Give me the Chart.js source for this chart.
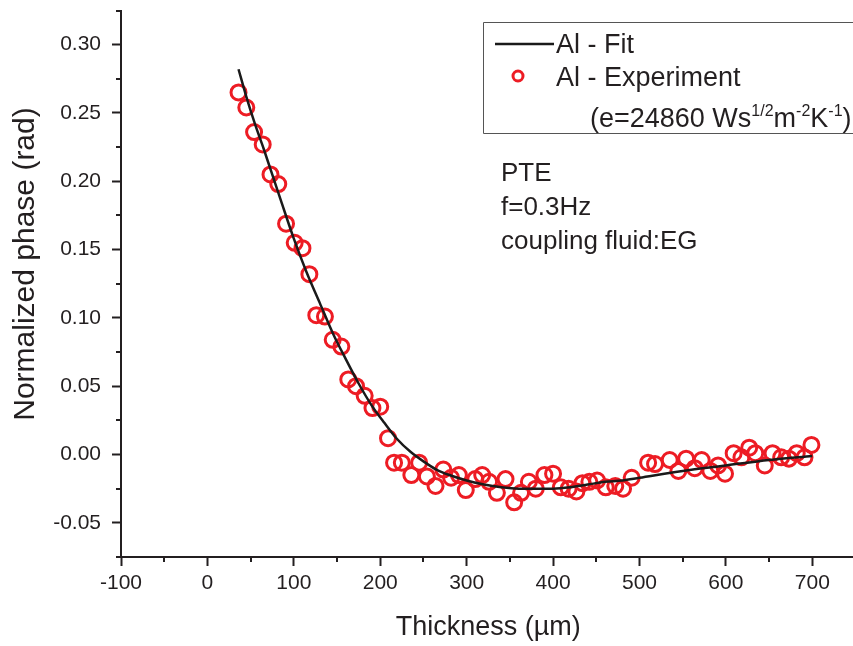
<!DOCTYPE html>
<html>
<head>
<meta charset="utf-8">
<script src="https://cdn.jsdelivr.net/npm/chart.js@4/dist/chart.umd.min.js"></script>
<style>
  html, body { margin: 0; padding: 0; background: #fff; overflow: hidden; }
  #wrap { width: 866px; height: 646px; }
</style>
</head>
<body>
<div id="wrap"><canvas id="grafico" width="866" height="646"></canvas></div>
<script>
// pontos experimentais (Al)
const espessuraExp = [36, 45, 54, 64, 73, 82, 91, 101, 110, 118, 126, 136, 145, 155, 163, 172, 182, 191, 200, 209,
  216, 225, 236, 245, 254, 264, 273, 282, 291, 299, 310, 318, 326, 335, 345, 355, 363, 372, 380, 390,
  400, 409, 418, 427, 434, 442, 451, 461, 472, 481, 491, 510, 518, 535, 545, 554, 564, 572, 582, 591,
  599, 609, 618, 627, 634, 645, 654, 664, 673, 682, 691, 699];
const faseExp = [0.265, 0.254, 0.236, 0.227, 0.205, 0.198, 0.169, 0.155, 0.151, 0.132, 0.102, 0.101, 0.084, 0.079, 0.055, 0.050, 0.043, 0.034, 0.035, 0.012,
  -0.006, -0.006, -0.015, -0.006, -0.016, -0.023, -0.011, -0.017, -0.015, -0.026, -0.018, -0.015, -0.020, -0.028, -0.018, -0.035, -0.028, -0.020, -0.025, -0.015,
  -0.014, -0.024, -0.025, -0.027, -0.021, -0.020, -0.019, -0.024, -0.023, -0.025, -0.017, -0.006, -0.007, -0.004, -0.012, -0.003, -0.010, -0.004, -0.012, -0.008,
  -0.014, 0.001, -0.002, 0.005, 0.001, -0.008, 0.001, -0.002, -0.003, 0.001, -0.002, 0.007];

// curva de ajuste (Al - Fit)
const espessuraFit = [36, 45, 55, 65, 75, 85, 100, 115, 130, 145, 160, 175, 190, 205, 220, 235, 250, 265, 280, 300,
  320, 340, 360, 380, 400, 420, 440, 460, 480, 500, 550, 600, 650, 700];
const faseFit = [0.282, 0.262, 0.242, 0.224, 0.205, 0.186, 0.158, 0.133, 0.111, 0.089, 0.070, 0.052, 0.036, 0.023, 0.011, 0.002, -0.005, -0.011, -0.015, -0.019,
  -0.022, -0.024, -0.025, -0.025, -0.025, -0.024, -0.022, -0.020, -0.019, -0.017, -0.012, -0.008, -0.004, -0.001];

// marcas dos eixos
const ticksX = [-100, 0, 100, 200, 300, 400, 500, 600, 700];
const ticksY = [-0.05, 0.00, 0.05, 0.10, 0.15, 0.20, 0.25, 0.30];
const minorX = [-50, 50, 150, 250, 350, 450, 550, 650, 750];
const minorY = [-0.075, -0.025, 0.025, 0.075, 0.125, 0.175, 0.225, 0.275, 0.325];

const notas = ["PTE", "f=0.3Hz", "coupling fluid:EG"];
const tituloY = "Normalized phase (rad)";

const corVermelha = "rgb(237, 28, 36)";
const corEixo = "#231f20";
const fonte = "'Liberation Sans', Arial, sans-serif";

function juntaPontos(xs, ys) {
  return xs.map(function (x, i) { return { x: x, y: ys[i] }; });
}

// sem folga extra nas bordas da area do grafico
function semFolga(s) {
  s.paddingTop = 0;
  s.paddingBottom = 0;
  s.paddingLeft = 0;
  s.paddingRight = 0;
}

// marcas menores + legenda + textos
const extras = {
  id: "extras",
  afterDraw(chart) {
    const ctx = chart.ctx;
    const sx = chart.scales.x;
    const sy = chart.scales.y;
    const area = chart.chartArea;
    ctx.save();
    ctx.strokeStyle = corEixo;
    ctx.lineWidth = 2;
    minorX.forEach(function (v) {
      const px = Math.round(sx.getPixelForValue(v));
      ctx.beginPath();
      ctx.moveTo(px, area.bottom);
      ctx.lineTo(px, area.bottom + 5);
      ctx.stroke();
    });
    minorY.forEach(function (v) {
      const py = Math.round(sy.getPixelForValue(v));
      ctx.beginPath();
      ctx.moveTo(area.left, py);
      ctx.lineTo(area.left - 5, py);
      ctx.stroke();
    });

    // titulo do eixo y (um pouco acima do centro, como no original)
    ctx.save();
    ctx.translate(26, 264);
    ctx.rotate(-Math.PI / 2);
    ctx.fillStyle = corEixo;
    ctx.font = "30px " + fonte;
    ctx.textAlign = "center";
    ctx.textBaseline = "middle";
    ctx.fillText(tituloY, 0, 0);
    ctx.restore();

    // caixa da legenda
    ctx.strokeStyle = "#555";
    ctx.lineWidth = 1;
    ctx.beginPath();
    ctx.moveTo(870, 22.5);
    ctx.lineTo(483.5, 22.5);
    ctx.lineTo(483.5, 133.5);
    ctx.lineTo(870, 133.5);
    ctx.stroke();

    ctx.strokeStyle = "#1a1a1a";
    ctx.lineWidth = 2.5;
    ctx.beginPath();
    ctx.moveTo(495, 44);
    ctx.lineTo(554, 44);
    ctx.stroke();

    ctx.strokeStyle = corVermelha;
    ctx.lineWidth = 3;
    ctx.beginPath();
    ctx.arc(518, 76, 5, 0, Math.PI * 2);
    ctx.stroke();

    ctx.fillStyle = "#231f20";
    ctx.textBaseline = "alphabetic";
    ctx.textAlign = "left";
    ctx.font = "27px " + fonte;
    ctx.fillText("Al - Fit", 556, 53);
    ctx.fillText("Al - Experiment", 556, 86);

    // (e=24860 Ws^1/2 m^-2 K^-1)
    let x = 590;
    const base = 127;
    const partes = [["(e=24860 Ws", false], ["1/2", true], ["m", false], ["-2", true], ["K", false], ["-1", true], [")", false]];
    partes.forEach(function (p) {
      ctx.font = (p[1] ? "16px " : "27px ") + fonte;
      ctx.fillText(p[0], x, p[1] ? base - 11 : base);
      x += ctx.measureText(p[0]).width;
    });

    ctx.font = "26px " + fonte;
    notas.forEach(function (t, i) {
      ctx.fillText(t, 501, 181 + i * 34);
    });
    ctx.restore();
  }
};

new Chart(document.getElementById("grafico"), {
  type: "scatter",
  data: {
    datasets: [
      {
        label: "Al - Fit",
        type: "line",
        data: juntaPontos(espessuraFit, faseFit),
        borderColor: "#1a1a1a",
        borderWidth: 2.5,
        pointRadius: 0,
        fill: false,
        cubicInterpolationMode: "monotone"
      },
      {
        label: "Al - Experiment",
        data: juntaPontos(espessuraExp, faseExp),
        borderColor: corVermelha,
        backgroundColor: "rgba(0,0,0,0)",
        borderWidth: 3,
        pointRadius: 7.5,
        pointStyle: "circle"
      }
    ]
  },
  options: {
    responsive: false,
    animation: false,
    layout: { padding: { top: 8, left: 0, right: 0, bottom: 0 } },
    plugins: { legend: { display: false }, tooltip: { enabled: false } },
    scales: {
      x: {
        type: "linear",
        min: -100,
        max: 750,
        afterFit: function (s) { s.height = 89; semFolga(s); },
        afterBuildTicks: function (s) { s.ticks = ticksX.map(function (v) { return { value: v }; }); },
        ticks: {
          color: corEixo,
          padding: 5,
          font: { family: fonte, size: 21 },
          callback: function (v) { return String(v); }
        },
        grid: { drawOnChartArea: false, drawTicks: true, tickLength: 9, tickWidth: 2, tickColor: corEixo },
        border: { display: true, color: corEixo, width: 2 },
        title: {
          display: true,
          text: "Thickness (\u00b5m)",
          color: corEixo,
          font: { family: fonte, size: 27 },
          padding: { top: 0, bottom: 2 }
        }
      },
      y: {
        type: "linear",
        min: -0.075,
        max: 0.325,
        afterFit: function (s) { s.width = 121; semFolga(s); },
        afterBuildTicks: function (s) { s.ticks = ticksY.map(function (v) { return { value: v }; }); },
        ticks: {
          color: corEixo,
          padding: 11,
          font: { family: fonte, size: 21 },
          callback: function (v) { return v.toFixed(2); }
        },
        grid: { drawOnChartArea: false, drawTicks: true, tickLength: 9, tickWidth: 2, tickColor: corEixo },
        border: { display: true, color: corEixo, width: 2 }
      }
    }
  },
  plugins: [extras]
});
</script>
</body>
</html>
